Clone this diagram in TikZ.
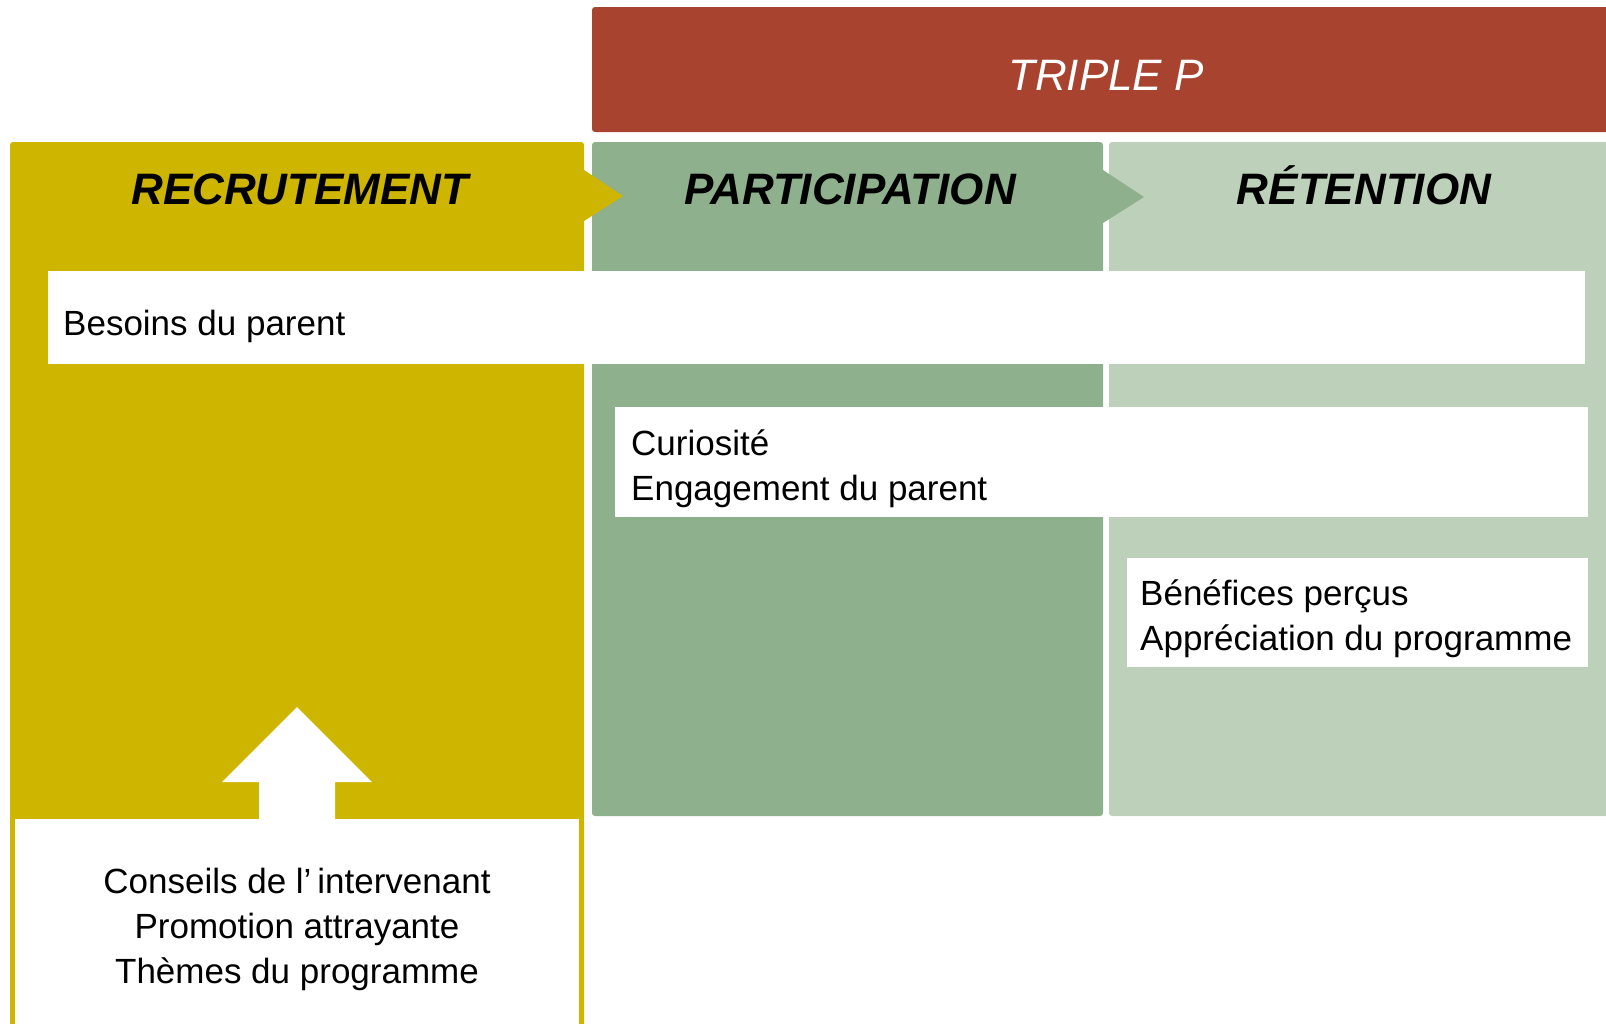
\documentclass[tikz,border=0pt]{standalone}
\usepackage{fontspec}
\setmainfont{Liberation Sans}
\definecolor{triplered}{RGB}{168,67,48}
\definecolor{recruityellow}{RGB}{206,181,0}
\definecolor{partgreen}{RGB}{143,176,141}
\definecolor{retgreen}{RGB}{189,208,186}
\tikzset{
  header/.style={font=\fontsize{44}{50}\selectfont\bfseries\itshape, inner sep=0pt, anchor=base},
  itemtext/.style={font=\fontsize{35}{45}\selectfont, inner sep=0pt, align=left, anchor=west},
  itembox/.style={fill=white}
}

\begin{document}
\begin{tikzpicture}[x=1pt, y=-1pt]
        \useasboundingbox (0, 0) rectangle (1606, 1023);
        % columns
        \fill[triplered, rounded corners=3pt] (592, 7) rectangle (1620, 132);
        \fill[recruityellow, rounded corners=3pt] (10, 142) rectangle (584, 1040);
        \fill[partgreen, rounded corners=3pt] (592, 142) rectangle (1103, 816);
        \fill[retgreen, rounded corners=3pt] (1109, 142) rectangle (1620, 816);
        \fill[recruityellow] (584, 170) -- (623, 196) -- (584, 221) -- cycle;
        \fill[partgreen] (1103, 170) -- (1144, 197) -- (1103, 223) -- cycle;
        % white boxes
        \fill[itembox] (48, 271) rectangle (1585, 364);
        \fill[itembox] (615, 407) rectangle (1588, 517);
        \fill[itembox] (1127, 558) rectangle (1588, 667);
        \fill[white] (15, 819) rectangle (579, 1040);
        \fill[white] (297, 707) -- (372, 782) -- (335, 782) -- (335, 822)
                     -- (259, 822) -- (259, 782) -- (222, 782) -- cycle;
        % titles
        \node[header, font=\fontsize{44}{50}\selectfont\itshape, text=white] (triple) at (1106, 90) {TRIPLE P};
        \node[header] (recrut) at (300, 204) {RECRUTEMENT};
        \node[header] (partic) at (850, 204) {PARTICIPATION};
        \node[header] (retent) at (1364, 204) {RÉTENTION};
        % texts
        \node[itemtext] (besoins) at (63, 326) {Besoins du parent};
        \node[itemtext] (curio) at (631, 469) {Curiosité\\Engagement du parent};
        \node[itemtext] (benef) at (1140, 619) {Bénéfices perçus\\Appréciation du programme};
        \node[itemtext, anchor=center, align=center] (conseils) at (297, 929)
             {Conseils de l’\,intervenant\\Promotion attrayante\\Thèmes du programme};
\end{tikzpicture}
\end{document}
